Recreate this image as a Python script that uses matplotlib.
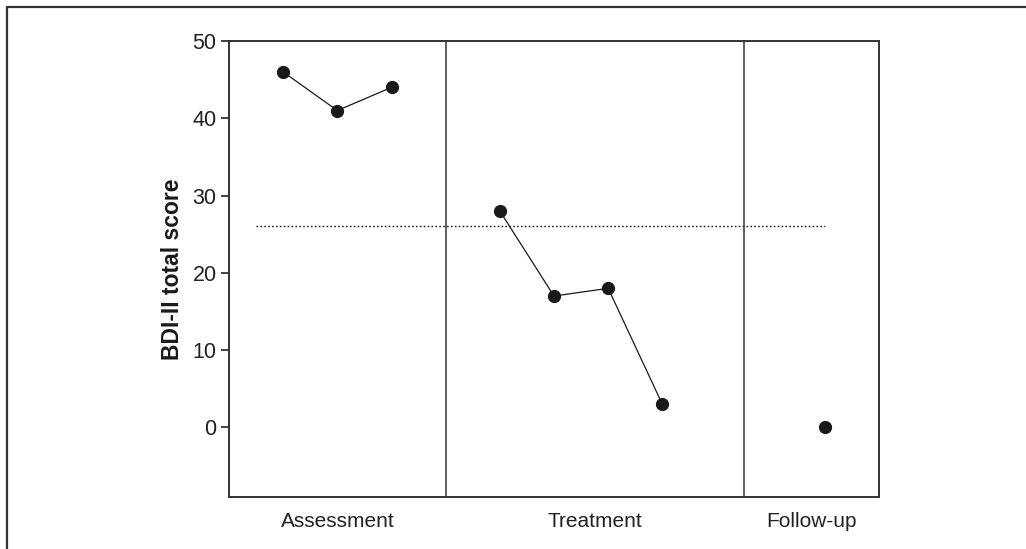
import matplotlib
matplotlib.use("Agg")
import matplotlib.pyplot as plt
from matplotlib.patches import Rectangle

plt.rcParams['font.family'] = ['Liberation Sans', 'DejaVu Sans']

# session data
assess_x = [1, 2, 3]
assess_y = [46, 41, 44]
treat_x = [5, 6, 7, 8]
treat_y = [28, 17, 18, 3]
follow_x = [11]
follow_y = [0]

phase_lines = [4, 9.5]
phase_labels = ['Assessment', 'Treatment', 'Follow-up']
phase_centers = [2, 6.75, 10.75]
cutoff = 26
yticks = [0, 10, 20, 30, 40, 50]

ink = '#1a1a1a'

fig = plt.figure(figsize=(10.26, 5.49), dpi=100)
# outer frame (only top/left visible in the original crop)
fig.patches.append(Rectangle((7 / 1026, -0.1), 1.2, 1 - 7 / 549 + 0.1,
                             transform=fig.transFigure, fill=False,
                             edgecolor='#333333', linewidth=1.6))

ax = fig.add_axes([229 / 1026, 1 - 497 / 549, 650 / 1026, 456 / 549])

ax.plot(assess_x, assess_y, '-o', color=ink, lw=0.9, ms=8.5)
ax.plot(treat_x, treat_y, '-o', color=ink, lw=0.9, ms=8.5)
ax.plot(follow_x, follow_y, 'o', color=ink, ms=8.5)

ax.hlines(cutoff, 0.5, 11, colors=ink, linestyles=(0, (1.2, 1.6)), lw=1.0)
for xv in phase_lines:
    ax.axvline(xv, color='#333333', lw=1.1)

ax.set_xlim(0, 12)
ax.set_ylim(-9, 50)
ax.set_yticks(yticks)
ax.set_xticks(phase_centers)
ax.set_xticklabels(phase_labels)
ax.tick_params(axis='x', length=0, pad=11, labelsize=15, colors='#222222')
ax.tick_params(axis='y', length=6, width=1.2, pad=3, labelsize=15.5,
               colors='#222222')
for s in ax.spines.values():
    s.set_color('#333333')
    s.set_linewidth(1.4)

ax.set_ylabel('BDI-II total score', fontsize=16.5, fontweight='bold',
              color='#1a1a1a', labelpad=6)

fig.savefig('out.png', dpi=100)
